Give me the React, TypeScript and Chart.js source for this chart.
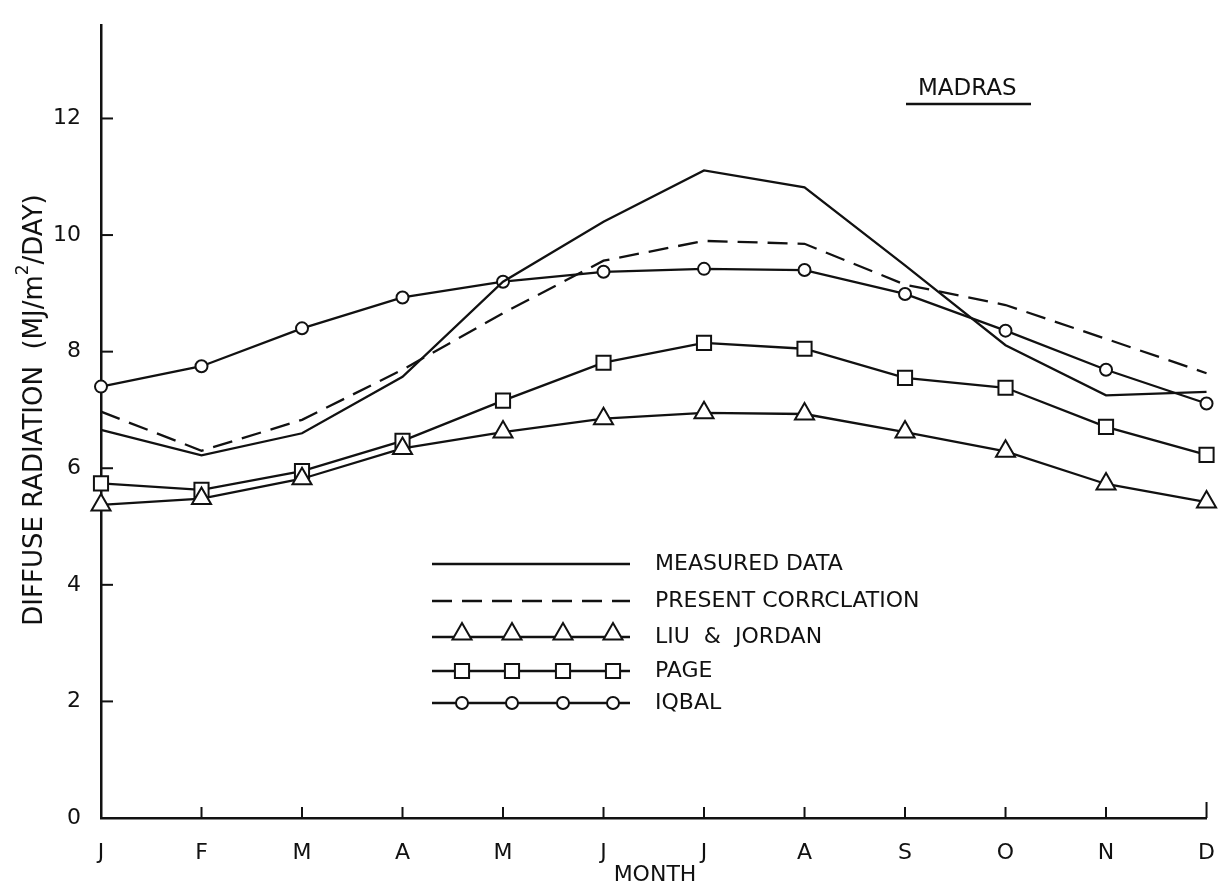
import React, { useEffect, useRef } from "react";
import { Chart, registerables } from "chart.js";

Chart.register(...registerables);

const months = ["J", "F", "M", "A", "M", "J", "J", "A", "S", "O", "N", "D"];
const yTickValues = [0, 2, 4, 6, 8, 10, 12];

const measured = [6.66, 6.22, 6.6, 7.57, 9.2, 10.23, 11.11, 10.82, 9.48, 8.11, 7.25, 7.31];
const present = [6.97, 6.3, 6.83, 7.69, 8.66, 9.56, 9.9, 9.85, 9.15, 8.8, 8.22, 7.63];
const liuJordan = [5.37, 5.48, 5.82, 6.34, 6.62, 6.85, 6.95, 6.93, 6.62, 6.29, 5.73, 5.42];
const page = [5.74, 5.63, 5.95, 6.47, 7.16, 7.81, 8.15, 8.05, 7.55, 7.38, 6.71, 6.23];
const iqbal = [7.4, 7.75, 8.4, 8.93, 9.2, 9.37, 9.42, 9.4, 8.99, 8.36, 7.69, 7.11];

const seriesLabels = ["MEASURED DATA", "PRESENT CORRCLATION", "LIU  &  JORDAN", "PAGE", "IQBAL"];
const yTitleMain = "DIFFUSE RADIATION  (MJ/m";
const yTitleSup = "2";
const yTitleEnd = "/DAY)";
const xTitle = "MONTH";
const placeLabel = "MADRAS";

const INK = "#111";
const FONT = "DejaVu Sans";
const LW = 2.3;

function drawMarker(ctx: CanvasRenderingContext2D, style: string, x: number, y: number, r: number) {
  ctx.save();
  ctx.fillStyle = "#fff";
  ctx.strokeStyle = INK;
  ctx.lineWidth = 2;
  ctx.beginPath();
  if (style === "triangle") {
    ctx.moveTo(x, y - r);
    ctx.lineTo(x + r * 0.866, y + r * 0.5);
    ctx.lineTo(x - r * 0.866, y + r * 0.5);
    ctx.closePath();
  } else if (style === "rect") {
    const s = r * Math.SQRT1_2;
    ctx.rect(x - s, y - s, 2 * s, 2 * s);
  } else {
    ctx.arc(x, y, r, 0, Math.PI * 2);
  }
  ctx.fill();
  ctx.stroke();
  ctx.restore();
}

const decorPlugin = {
  id: "decor",
  afterDraw(chart: any) {
    const ctx: CanvasRenderingContext2D = chart.ctx;
    const { left, bottom } = chart.chartArea;
    const xs = chart.scales.x;
    const ys = chart.scales.y;
    ctx.save();
    ctx.strokeStyle = INK;
    ctx.lineWidth = 2;
    // inward tick marks
    yTickValues.forEach((v) => {
      if (v === 0) return;
      const py = ys.getPixelForValue(v);
      ctx.beginPath();
      ctx.moveTo(left, py);
      ctx.lineTo(left + 12, py);
      ctx.stroke();
    });
    months.forEach((_, i) => {
      if (i === 0) return;
      const px = xs.getPixelForValue(i);
      ctx.beginPath();
      ctx.moveTo(px, bottom);
      ctx.lineTo(px, bottom - (i === months.length - 1 ? 16 : 11));
      ctx.stroke();
    });

    // y axis title
    ctx.fillStyle = INK;
    ctx.save();
    ctx.translate(35, 410);
    ctx.rotate(-Math.PI / 2);
    ctx.font = `26px ${FONT}`;
    const w1 = ctx.measureText(yTitleMain).width;
    ctx.font = `17px ${FONT}`;
    const w2 = ctx.measureText(yTitleSup).width;
    ctx.font = `26px ${FONT}`;
    const w3 = ctx.measureText(yTitleEnd).width;
    const total = w1 + w2 + w3;
    let sx = -total / 2;
    ctx.textBaseline = "middle";
    ctx.textAlign = "left";
    ctx.fillText(yTitleMain, sx, 0);
    sx += w1;
    ctx.font = `17px ${FONT}`;
    ctx.fillText(yTitleSup, sx, -11);
    sx += w2;
    ctx.font = `26px ${FONT}`;
    ctx.fillText(yTitleEnd, sx, 0);
    ctx.restore();

    // x axis title
    ctx.font = `22px ${FONT}`;
    ctx.textAlign = "center";
    ctx.textBaseline = "middle";
    ctx.fillText(xTitle, 655, 875);

    // place label
    ctx.font = `23px ${FONT}`;
    ctx.textAlign = "left";
    ctx.fillText(placeLabel, 918, 89);
    ctx.lineWidth = 2.5;
    ctx.beginPath();
    ctx.moveTo(906, 104);
    ctx.lineTo(1031, 104);
    ctx.stroke();

    // legend
    const rows = [
      { type: "solid", y: 564 },
      { type: "dashed", y: 601 },
      { type: "triangle", y: 637 },
      { type: "rect", y: 671 },
      { type: "circle", y: 703 },
    ];
    const lx0 = 432;
    const lx1 = 630;
    const mk = [462, 512, 563, 613];
    rows.forEach((row, i) => {
      ctx.save();
      ctx.strokeStyle = INK;
      ctx.lineWidth = LW;
      if (row.type === "dashed") ctx.setLineDash([20, 10]);
      ctx.beginPath();
      ctx.moveTo(lx0, row.y);
      ctx.lineTo(lx1, row.y);
      ctx.stroke();
      ctx.restore();
      if (row.type === "triangle") mk.forEach((x) => drawMarker(ctx, "triangle", x, row.y - 3, 11));
      if (row.type === "rect") mk.forEach((x) => drawMarker(ctx, "rect", x, row.y, 10));
      if (row.type === "circle") mk.forEach((x) => drawMarker(ctx, "circle", x, row.y, 6));
      ctx.fillStyle = INK;
      ctx.font = `22px ${FONT}`;
      ctx.textAlign = "left";
      ctx.textBaseline = "middle";
      ctx.fillText(seriesLabels[i], 655, row.y);
    });
    ctx.restore();
  },
};

export default function App() {
  const canvasRef = useRef<HTMLCanvasElement | null>(null);

  useEffect(() => {
    const canvas = canvasRef.current;
    if (!canvas) return;
    const base = {
      borderColor: INK,
      borderWidth: LW,
      pointBackgroundColor: "#fff",
      pointBorderColor: INK,
      pointBorderWidth: 2,
      tension: 0,
      clip: false as any,
    };
    const chart = new Chart(canvas, {
      type: "line",
      data: {
        labels: months,
        datasets: [
          { ...base, label: seriesLabels[0], data: measured, pointRadius: 0 },
          { ...base, label: seriesLabels[1], data: present, pointRadius: 0, borderDash: [20, 10] },
          { ...base, label: seriesLabels[2], data: liuJordan, pointStyle: "triangle", pointRadius: 11 },
          { ...base, label: seriesLabels[3], data: page, pointStyle: "rect", pointRadius: 10 },
          { ...base, label: seriesLabels[4], data: iqbal, pointStyle: "circle", pointRadius: 6 },
        ],
      },
      options: {
        responsive: false,
        animation: false,
        layout: { padding: { left: 0, right: 11, top: 9, bottom: 0 } },
        plugins: { legend: { display: false }, tooltip: { enabled: false }, title: { display: false } },
        scales: {
          x: {
            type: "category",
            offset: false,
            grid: { display: false },
            border: { display: true, color: INK, width: 2.5 },
            ticks: {
              color: INK,
              font: { family: FONT, size: 22 },
              padding: 14,
              maxRotation: 0,
              autoSkip: false,
            },
            afterFit: (s: any) => {
              s.height = 72;
            },
          },
          y: {
            type: "linear",
            min: 0,
            max: 13.6,
            grid: { display: false },
            border: { display: true, color: INK, width: 2.5 },
            ticks: {
              color: INK,
              font: { family: FONT, size: 22 },
              padding: 12,
              stepSize: 2,
            },
            afterBuildTicks: (s: any) => {
              s.ticks = yTickValues.map((v) => ({ value: v }));
            },
            afterFit: (s: any) => {
              s.width = 101;
            },
          },
        },
      },
      plugins: [decorPlugin],
    });
    return () => chart.destroy();
  }, []);

  return (
    <div style={{ position: "absolute", left: 0, top: 0, width: 1229, height: 890, background: "#fff" }}>
      <canvas ref={canvasRef} width={1229} height={890} style={{ display: "block" }} />
    </div>
  );
}
